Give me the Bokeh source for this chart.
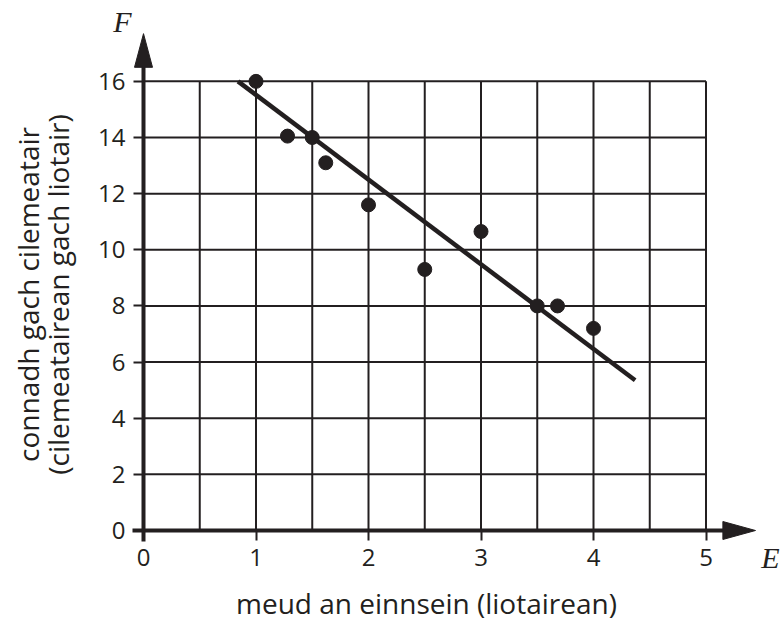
from bokeh.plotting import figure
from bokeh.models import Range1d, FixedTicker
from bokeh.embed import file_html
from bokeh.resources import INLINE
from bokeh.core.properties import value

# ---- data ----
engine_size = [1.0, 1.28, 1.5, 1.62, 2.0, 2.5, 3.0, 3.5, 3.68, 4.0]
km_per_litre = [16.0, 14.05, 14.0, 13.1, 11.6, 9.3, 10.65, 8.0, 8.0, 7.2]
fit_x = [0.84, 4.37]
fit_y = [16.0, 5.35]
x_ticks = [0, 1, 2, 3, 4, 5]
y_ticks = [0, 2, 4, 6, 8, 10, 12, 14, 16]
x_grid = [0.5, 1.0, 1.5, 2.0, 2.5, 3.0, 3.5, 4.0, 4.5, 5.0]
y_grid = [2, 4, 6, 8, 10, 12, 14, 16]
x_label = "meud an einnsein (liotairean)"
y_label = "connadh gach cilemeatair\n(cilemeatairean gach liotair)"
x_name = "E"
y_name = "F"

# ---- layout / style ----
INK = "#231f20"
FONT = "Open Sans"
W, H = 781, 624
LEFT, BOTTOM, TOP = 143, 92, 58
FRAME_W = 566
RIGHT = W - LEFT - FRAME_W
PX_X = 112.5
PX_Y = 28.19
x_end = FRAME_W / PX_X
y_end = (H - BOTTOM - TOP) / PX_Y
X_MAX, Y_MAX = 5, 16

p = figure(width=W, height=H, x_range=Range1d(0, x_end), y_range=Range1d(0, y_end),
           output_backend="svg", toolbar_location=None,
           min_border_left=LEFT, min_border_bottom=BOTTOM,
           min_border_top=TOP, min_border_right=RIGHT)
p.grid.visible = False
p.outline_line_color = None
p.background_fill_color = "white"
p.border_fill_color = "white"

# grid
p.segment(x0=x_grid, y0=[0] * len(x_grid), x1=x_grid, y1=[Y_MAX] * len(x_grid),
          line_color=INK, line_width=2)
p.segment(x0=[0] * len(y_grid), y0=y_grid, x1=[X_MAX] * len(y_grid), y1=y_grid,
          line_color=INK, line_width=2)

# axis lines with arrows (overlay level: not clipped to the frame)
stub_x = 11 / PX_X
stub_y = 11 / PX_Y
p.segment(x0=[-stub_x, 0], y0=[0, -stub_y], x1=[5.17, 0], y1=[0, 16.55],
          line_color=INK, line_width=4, level="overlay")
p.patch([5.15, 5.44, 5.15], [0.32, 0, -0.32], color=INK, level="overlay")
p.patch([-0.08, 0, 0.08], [16.5, 17.7, 16.5], color=INK, level="overlay")

# data
p.line(fit_x, fit_y, line_width=4.5, line_color=INK)
p.scatter(engine_size, km_per_litre, size=14, color=INK)

# axes
for ax, ticks, bounds in ((p.xaxis[0], x_ticks, (0, X_MAX)), (p.yaxis[0], y_ticks, (0, Y_MAX))):
    ax.ticker = FixedTicker(ticks=ticks)
    ax.bounds = bounds
    ax.axis_line_color = None
    ax.major_tick_out = 10
    ax.major_tick_in = 0
    ax.major_tick_line_width = 2
    ax.major_tick_line_color = INK
    ax.minor_tick_line_color = None
    ax.major_label_text_font = FONT
    ax.major_label_text_font_size = "24px"
    ax.major_label_text_color = INK
    ax.axis_label_text_font = FONT
    ax.axis_label_text_font_size = "28px"
    ax.axis_label_text_font_style = "normal"
    ax.axis_label_text_color = INK

p.xaxis.axis_label = x_label
p.yaxis.axis_label = y_label
p.xaxis.major_label_standoff = 8
p.xaxis.axis_label_standoff = 15
p.yaxis.major_label_standoff = 8
p.yaxis.axis_label_standoff = 18
p.yaxis.axis_label_text_line_height = 0.8
p.yaxis.major_label_orientation = "horizontal"

# axis names (overlay level so they are not clipped)
p.text(x=[-0.187], y=[18.13], text=[y_name], text_font=value("Liberation Serif"),
       text_font_style="italic", text_font_size="30px", text_color=INK,
       text_align="center", text_baseline="middle", level="overlay")
p.text(x=[5.49], y=[-0.96], text=[x_name], text_font=value("Liberation Serif"),
       text_font_style="italic", text_font_size="30px", text_color=INK,
       text_align="left", text_baseline="middle", level="overlay")

open("out.html", "w").write(file_html(p, INLINE))
